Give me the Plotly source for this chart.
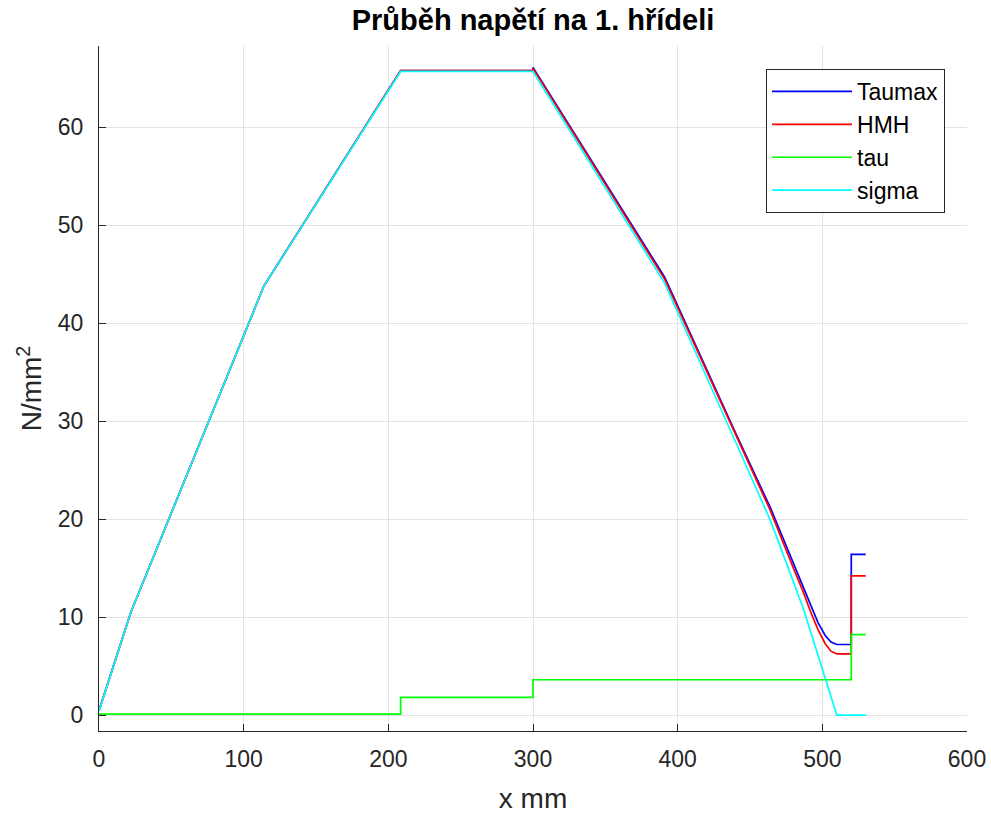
import plotly.graph_objects as go

# common x positions (mm) of the read breakpoints
x_mm = [0, 22, 114, 208.5, 208.5, 300, 300, 391, 440, 464, 480, 487, 492, 497,
        502, 506, 510, 520, 520, 530]

sigma = [0.4, 10.5, 43.8, 65.7, 65.7, 65.7, 65.7, 44.1, 27.9, 19.9, 13.6, 10.8,
         8.45, 6.1, 3.75, 1.9, 0.0, 0.0, 0.0, 0.0]
tau = [0.1, 0.1, 0.1, 0.1, 1.8, 1.8, 3.6, 3.6, 3.6, 3.6, 3.6, 3.6, 3.6, 3.6,
       3.6, 3.6, 3.6, 3.6, 8.2, 8.2]
taumax = [0.45, 10.5, 43.8, 65.7, 65.8, 65.8, 66.1, 44.7, 28.8, 21.2, 15.4, 13.0,
          11.1, 9.44, 8.12, 7.45, 7.2, 7.2, 16.4, 16.4]
hmh = [0.44, 10.5, 43.8, 65.7, 65.8, 65.8, 66.0, 44.5, 28.6, 20.9, 15.0, 12.5,
       10.5, 8.72, 7.28, 6.52, 6.24, 6.24, 14.2, 14.2]

names = ["Taumax", "HMH", "tau", "sigma"]
colors = ["#0000ff", "#ff0000", "#00ff00", "#00ffff"]
series = [taumax, hmh, tau, sigma]

x_ticks = [0, 100, 200, 300, 400, 500, 600]
y_ticks = [0, 10, 20, 30, 40, 50, 60]

FONT = "Liberation Sans, Arial"

fig = go.Figure()
for n, c, s in zip(names, colors, series):
    fig.add_trace(go.Scatter(x=x_mm, y=s, mode="lines", name=n,
                             line=dict(color=c, width=1.7)))

axis_common = dict(showgrid=True, gridcolor="#e3e3e3", gridwidth=1,
                   showline=True, linecolor="#262626", linewidth=1.2,
                   ticks="inside", ticklen=7, tickcolor="#262626",
                   zeroline=False, mirror=False, automargin=False,
                   ticklabeloverflow="allow",
                   tickfont=dict(family=FONT, size=23, color="#262626"))

fig.update_layout(
    width=991, height=814,
    margin=dict(l=99, r=24, t=46, b=83, autoexpand=False),
    paper_bgcolor="white", plot_bgcolor="white",
    title=dict(text="<b>Průběh napětí na 1. hřídeli</b>", x=0.5, xref="paper",
               xanchor="center", y=0.976, yanchor="middle", automargin=False,
               font=dict(family=FONT, size=29, color="black")),
    xaxis=dict(range=[0, 600], tickvals=x_ticks, ticklabelstandoff=7,
               title=dict(text="x mm", standoff=25,
                          font=dict(family=FONT, size=28, color="#262626")),
               **axis_common),
    yaxis=dict(range=[-1.63, 68.3], tickvals=y_ticks, ticklabelstandoff=10,
               title=dict(text="N/mm<sup>2</sup>", standoff=7,
                          font=dict(family=FONT, size=28, color="#262626")),
               **axis_common),
    legend=dict(x=0.9747, y=0.9664, xanchor="right", yanchor="top",
                bgcolor="white", bordercolor="#262626", borderwidth=1,
                itemwidth=80, tracegroupgap=0,
                font=dict(family=FONT, size=23, color="black")),
    showlegend=True,
)

fig.write_html(
    "out.html",
    config={"displayModeBar": False},
    post_script="document.body.style.margin='0';document.body.style.overflow='hidden';",
)
